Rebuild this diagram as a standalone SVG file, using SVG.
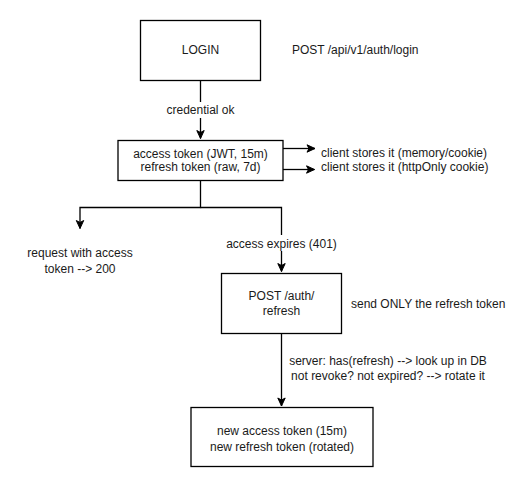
<svg xmlns="http://www.w3.org/2000/svg" width="529" height="489" viewBox="0 0 529 489">
<defs>
<marker id="arr" markerUnits="userSpaceOnUse" markerWidth="10" markerHeight="10" viewBox="0 0 10 10" refX="9" refY="5" orient="auto">
<path d="M1,1.3 L9,5 L1,8.7 L3,5 Z" fill="#000" stroke="#000" stroke-width="1"/>
</marker>
</defs>
<style>
.box{fill:#fff;stroke:#000;stroke-width:1.3}
.t{font-family:"Liberation Sans",Arial,sans-serif;font-size:12px;fill:#1a1a1a}
.m{text-anchor:middle}
.e{fill:none;stroke:#000;stroke-width:1.3}
</style>
<rect width="529" height="489" fill="#fff"/>
<g id="connectors">
<path class="e" d="M200.5,80.5 V138.5" marker-end="url(#arr)"/>
<rect x="162" y="102" width="78" height="16" fill="#fff"/>
<text class="t m" x="200.5" y="114">credential ok</text>
<path class="e" d="M283,148.5 H315" marker-end="url(#arr)"/>
<path class="e" d="M283,169.5 H314.5" marker-end="url(#arr)"/>
<path class="e" d="M200.5,180.5 V207.5 H80 V228.5" marker-end="url(#arr)"/>
<path class="e" d="M200.5,207.5 H281.5 V271.5" marker-end="url(#arr)"/>
<rect x="224" y="235" width="115" height="16" fill="#fff"/>
<text class="t m" x="281.5" y="247.5">access expires (401)</text>
<path class="e" d="M281.5,333.5 V406" marker-end="url(#arr)"/>
</g>
<g id="login">
<rect class="box" x="140.5" y="20.5" width="120" height="60"/>
<text class="t m" x="200.5" y="54">LOGIN</text>
</g>
<g id="login-note">
<text class="t" x="292" y="54">POST /api/v1/auth/login</text>
</g>
<g id="tokens">
<rect class="box" x="118" y="140.5" width="165" height="40"/>
<text class="t m" x="200.5" y="157.5">access token (JWT, 15m)</text>
<text class="t m" x="200.5" y="171">refresh token (raw, 7d)</text>
</g>
<g id="client-access">
<text class="t" x="321" y="156.5">client stores it (memory/cookie)</text>
</g>
<g id="client-refresh">
<text class="t" x="321" y="170.5">client stores it (httpOnly cookie)</text>
</g>
<g id="request-ok">
<text class="t m" x="80" y="257">request with access</text>
<text class="t m" x="80" y="272.5">token --&gt; 200</text>
</g>
<g id="refresh">
<rect class="box" x="221.5" y="273.5" width="120" height="60"/>
<text class="t m" x="281.5" y="299.5">POST /auth/</text>
<text class="t m" x="281.5" y="315">refresh</text>
</g>
<g id="refresh-note">
<text class="t" x="351" y="307.5">send ONLY the refresh token</text>
</g>
<g id="server-note">
<text class="t m" x="388" y="365">server: has(refresh) --&gt; look up in DB</text>
<text class="t m" x="388" y="379.5">not revoke? not expired? --&gt; rotate it</text>
</g>
<g id="new-tokens">
<rect class="box" x="191" y="407.5" width="182" height="59"/>
<text class="t m" x="282" y="435">new access token (15m)</text>
<text class="t m" x="282" y="450.5">new refresh token (rotated)</text>
</g>
</svg>
